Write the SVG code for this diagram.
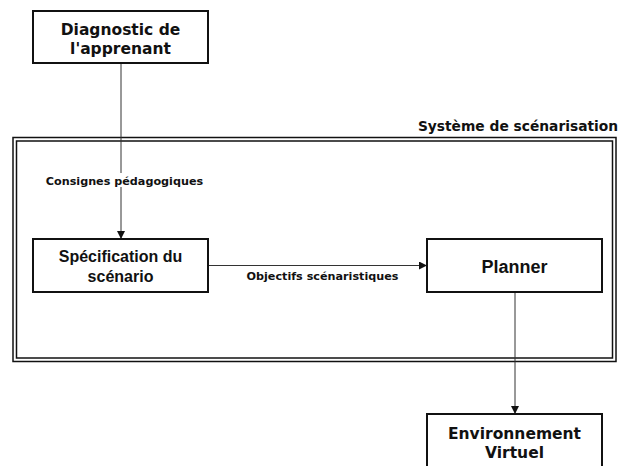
<svg xmlns="http://www.w3.org/2000/svg" width="618" height="466" viewBox="0 0 618 466">
<defs>
<marker id="arr" viewBox="0 0 10 10" refX="10" refY="5" markerWidth="8" markerHeight="8" markerUnits="userSpaceOnUse" orient="auto">
<path d="M0,0 L10,5 L0,10 z" fill="#111"/>
</marker>
<style>
.box{fill:#fff;stroke:#111;stroke-width:2}
.dj{font-family:"DejaVu Sans",sans-serif;font-weight:bold;fill:#111;text-anchor:middle}
.ar{font-family:"Liberation Sans",Arial,sans-serif;font-weight:bold;fill:#111;text-anchor:middle}
.conn{stroke:#333;stroke-width:1;fill:none}
.frame{fill:none;stroke:#111;stroke-width:1.5}
</style>
</defs>
<rect width="618" height="466" fill="#fff"/>
<g id="systeme">
<rect class="frame" x="13" y="137.5" width="603" height="224"/>
<rect class="frame" x="16.5" y="141" width="596" height="217"/>
<text class="dj" x="518" y="131" font-size="13.8">Système de scénarisation</text>
</g>
<g id="connectors">
<line class="conn" x1="121" y1="63" x2="121" y2="239" marker-end="url(#arr)"/>
<rect x="44" y="173" width="162" height="14" fill="#fff"/>
<text class="dj" x="124.5" y="184.5" font-size="11.2">Consignes pédagogiques</text>
<line class="conn" x1="208" y1="265.5" x2="427" y2="265.5" marker-end="url(#arr)"/>
<text class="dj" x="322.5" y="280" font-size="11.2">Objectifs scénaristiques</text>
<line class="conn" x1="515" y1="292" x2="515" y2="414" marker-end="url(#arr)"/>
</g>
<g id="diagnostic">
<rect class="box" x="33" y="11" width="175" height="52"/>
<text class="dj" x="120.5" y="35" font-size="15.5">Diagnostic de</text>
<text class="dj" x="120.5" y="54" font-size="15.5">l'apprenant</text>
</g>
<g id="specification">
<rect class="box" x="33" y="239" width="175" height="53"/>
<text class="ar" x="120.5" y="262" font-size="16">Spécification du</text>
<text class="ar" x="120.5" y="282" font-size="16">scénario</text>
</g>
<g id="planner">
<rect class="box" x="427" y="239" width="175" height="53"/>
<text class="ar" x="514.5" y="273" font-size="18">Planner</text>
</g>
<g id="environnement">
<rect class="box" x="427" y="414" width="175" height="60"/>
<text class="dj" x="514.5" y="439" font-size="15.5">Environnement</text>
<text class="dj" x="514.5" y="458" font-size="15.5">Virtuel</text>
</g>
</svg>
